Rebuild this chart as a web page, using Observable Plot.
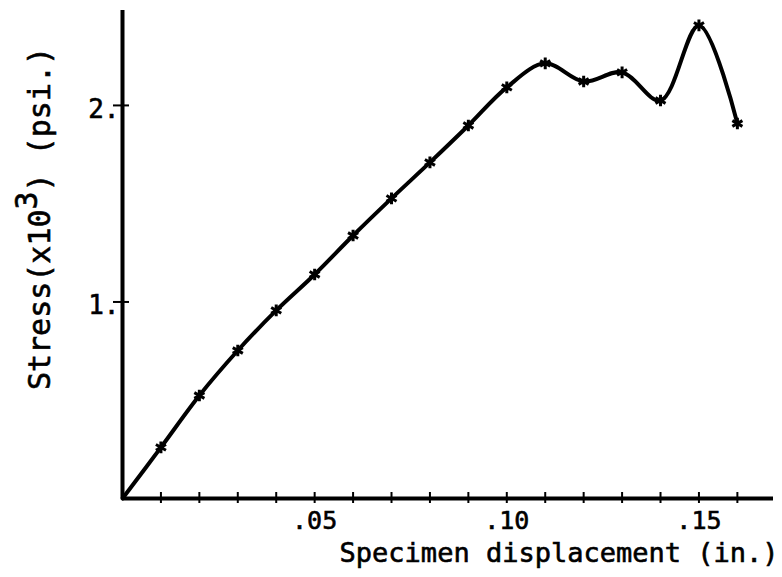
<!DOCTYPE html>
<html>
<head>
<meta charset="utf-8">
<script src="https://cdn.jsdelivr.net/npm/d3@7"></script>
<script src="https://cdn.jsdelivr.net/npm/@observablehq/plot@0.6"></script>
<style>
  html, body { margin: 0; padding: 0; background: #fff; }
  #chart svg { display: block; }
  #chart svg text { stroke: #000; stroke-width: 0.6px; }
</style>
</head>
<body>
<div id="chart"></div>
<script>
// Stress–displacement record of the specimen (stress in thousands of psi)
const displacement = [0, 0.01, 0.02, 0.03, 0.04, 0.05, 0.06, 0.07, 0.08, 0.09, 0.10, 0.11, 0.12, 0.13, 0.14, 0.15, 0.16];
const stress       = [0, 0.26, 0.524, 0.753, 0.957, 1.14, 1.338, 1.527, 1.71, 1.898, 2.092, 2.214, 2.122, 2.168, 2.025, 2.407, 1.908];

// Axis ticks and labels
const xMinorTicks = [0.01, 0.02, 0.03, 0.04, 0.05, 0.06, 0.07, 0.08, 0.09, 0.10, 0.11, 0.12, 0.13, 0.14, 0.15, 0.16];
const xTickValues = [0.05, 0.10, 0.15];
const xTickLabels = [".05", ".10", ".15"];
const yTickValues = [1, 2];
const yTickLabels = ["1.", "2."];
const xTitle = "Specimen displacement (in.)";
const yTitle = "Stress(x10^3) (psi.)";

const readings = displacement.map((x, i) => ({x, y: stress[i]}));
const plotted = readings.slice(1); // the origin carries no marker

const font = "'DejaVu Sans Mono', 'Liberation Mono', monospace";

const chart = Plot.plot({
  width: 782,
  height: 577,
  marginLeft: 122,
  marginRight: 9,
  marginTop: 10,
  marginBottom: 79,
  style: {fontFamily: font, fontSize: "26px", color: "#000", background: "#fff", overflow: "visible"},
  x: {domain: [0, 0.1694]},
  y: {domain: [0, 2.483]},
  marks: [
    // axis lines
    Plot.ruleX([0], {stroke: "#000", strokeWidth: 4}),
    Plot.ruleY([0], {stroke: "#000", strokeWidth: 4}),
    // ticks crossing the axes
    Plot.ruleX(xMinorTicks, {x: d => d, y1: 0, y2: 0, insetTop: 5, insetBottom: 6, stroke: "#000", strokeWidth: 2}),
    Plot.ruleY(yTickValues, {y: d => d, x1: 0, x2: 0, insetLeft: 7, insetRight: 9, stroke: "#000", strokeWidth: 2}),
    // tick labels
    Plot.axisX(xTickValues, {
      tickSize: 0, tickPadding: 13, label: null, fontSize: 25,
      tickFormat: d => xTickLabels[xTickValues.indexOf(d)]
    }),
    Plot.axisY(yTickValues, {
      tickSize: 0, tickPadding: 3, label: null, fontSize: 26, dy: 4,
      tickFormat: d => yTickLabels[yTickValues.indexOf(d)]
    }),
    // the curve and its readings
    Plot.line(readings, {x: "x", y: "y", curve: "catmull-rom", stroke: "#000", strokeWidth: 4}),
    Plot.dot(plotted, {x: "x", y: "y", symbol: "asterisk", r: 5.5, stroke: "#000", strokeWidth: 3}),
    // titles
    Plot.text([xTitle], {frameAnchor: "bottom-right", textAnchor: "end", dx: 5, dy: 63, fontSize: 27, fill: "#000"}),
    Plot.text([yTitle], {frameAnchor: "left", rotate: -90, textAnchor: "middle", dx: -82, dy: -36, fontSize: 30, fill: "#000"})
  ]
});

document.getElementById("chart").append(chart);

// Raise the exponent in the stress title
d3.select(chart).selectAll("text").each(function() {
  const t = d3.select(this);
  if (t.text() !== yTitle) return;
  t.text(null);
  t.append("tspan").text("Stress(x10");
  t.append("tspan").attr("dy", "-0.45em").text("3");
  t.append("tspan").attr("dy", "0.45em").text(") (psi.)");
});
</script>
</body>
</html>
